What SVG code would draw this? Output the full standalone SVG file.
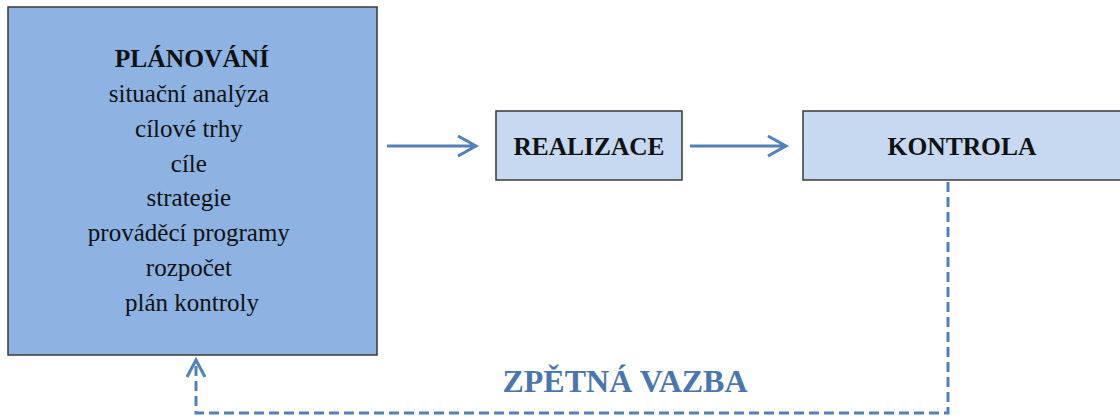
<svg xmlns="http://www.w3.org/2000/svg" width="1120" height="418" viewBox="0 0 1120 418">
  <style>
    .box { stroke: #3a3a3a; stroke-width: 1.5; }
    .dark { fill: #8DB3E2; }
    .light { fill: #C6D9F1; }
    .t { font-family: "Liberation Serif", "Times New Roman", serif; fill: #111; text-anchor: middle; }
    .b { font-weight: bold; }
    .flow { stroke: #4F81BD; stroke-width: 3; fill: none; }
    .fb { stroke: #4F81BD; stroke-width: 3; fill: none; stroke-dasharray: 10 5; }
  </style>
  <rect width="1120" height="418" fill="#fff"/>

  <g id="planovani">
    <rect class="box dark" x="8" y="7" width="369" height="348"/>
    <text class="t b" x="192" y="67" font-size="25.5">PLÁNOVÁNÍ</text>
    <text class="t" font-size="25">
      <tspan x="192" y="102">situační analýza</tspan>
      <tspan x="192" y="137">cílové trhy</tspan>
      <tspan x="192" y="172">cíle</tspan>
      <tspan x="192" y="206">strategie</tspan>
      <tspan x="192" y="241">prováděcí programy</tspan>
      <tspan x="192" y="276">rozpočet</tspan>
      <tspan x="192" y="311">plán kontroly</tspan>
    </text>
  </g>

  <g id="realizace">
    <rect class="box light" x="496" y="111" width="186" height="69"/>
    <text class="t b" x="589" y="155" font-size="25.4">REALIZACE</text>
  </g>

  <g id="kontrola">
    <rect class="box light" x="803" y="111" width="330" height="69"/>
    <text class="t b" x="962" y="155" font-size="25.5">KONTROLA</text>
  </g>

  <g id="connectors">
    <path class="flow" d="M387 146 H476 M458 136 L476 146 L458 156"/>
    <path class="flow" d="M690 146 H786 M768 136 L786 146 L768 156"/>
    <path class="fb" d="M948 182 V413 H196 V362"/>
    <path class="flow" d="M187 377 L196 360 L205 377"/>
    <text x="625" y="392" font-family="Liberation Serif, Times New Roman, serif" font-weight="bold" font-size="32" fill="#4A76B0" text-anchor="middle">ZPĚTNÁ VAZBA</text>
  </g>
</svg>
